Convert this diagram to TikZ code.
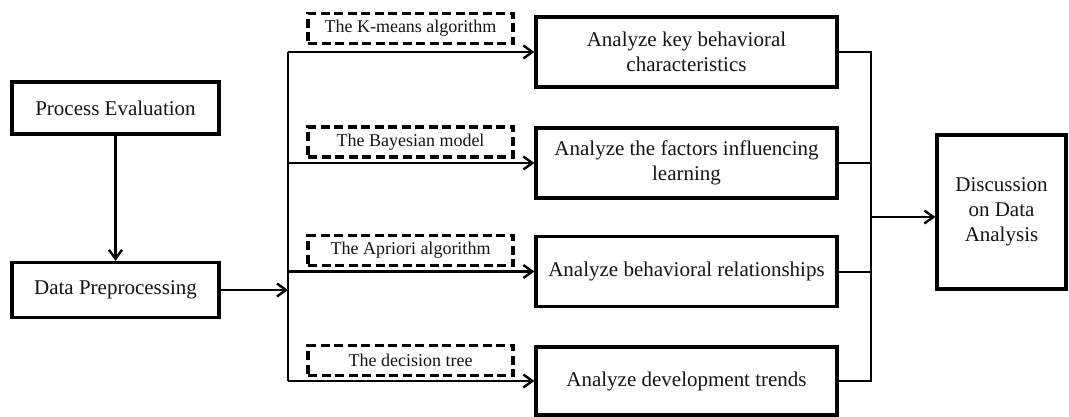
\documentclass[tikz,border=0pt]{standalone}
\usepackage{fontspec}
\setmainfont{Liberation Serif}
\usetikzlibrary{arrows.meta}
\definecolor{ink}{HTML}{141414}
\tikzset{
  mainbox/.style={draw=black, line width=3.2pt, rectangle, inner sep=0pt, align=center, text=ink,
    font=\fontsize{21}{24.5}\selectfont},
  algbox/.style={draw=black, line width=3.2pt, dash pattern=on 9pt off 4.5pt, rectangle, inner sep=0pt,
    minimum width=205pt, minimum height=30pt, text=ink, font=\fontsize{18}{21}\selectfont},
  conn/.style={draw=black, line width=2.4pt},
  arr/.style={conn, -{Straight Barb[length=9pt,width=13pt,line width=2.4pt]}},
}
\begin{document}
\begin{tikzpicture}[x=1pt, y=-1pt]
\useasboundingbox (0,0) rectangle (1069,417);
% left column
\node[mainbox, minimum width=207pt, minimum height=52pt] (pe) at (115.5,108) {Process Evaluation};
\node[mainbox, minimum width=207pt, minimum height=55pt] (dp) at (115.5,290) {Data Preprocessing};
% analysis boxes
\node[mainbox, minimum width=301pt, minimum height=70pt] (a1) at (686.5,52) {Analyze key behavioral\\characteristics};
\node[mainbox, minimum width=301pt, minimum height=70pt] (a2) at (686.5,163) {Analyze the factors influencing\\learning};
\node[mainbox, minimum width=301pt, minimum height=70pt] (a3) at (686.5,271.5) {Analyze behavioral relationships};
\node[mainbox, minimum width=301pt, minimum height=68pt] (a4) at (686.5,381) {Analyze development trends};
% algorithm labels
\node[algbox] (k1) at (410.5,28.5) {The K-means algorithm};
\node[algbox] (k2) at (410.5,142) {The Bayesian model};
\node[algbox] (k3) at (410.5,250.5) {The Apriori algorithm};
\node[algbox] (k4) at (410.5,360.5) {The decision tree};
% discussion
\node[mainbox, minimum width=129pt, minimum height=154pt, font=\fontsize{21}{25}\selectfont] (ds) at (1001.5,212) {Discussion\\on Data\\Analysis};
% trunk coordinates
\coordinate (t1) at (288,52);
\coordinate (t4) at (288,381);
\coordinate (tm) at (288,290);
\coordinate (r1) at (871,52);
\coordinate (r4) at (871,381);
\coordinate (rm) at (871,217);
% connectors
\draw[arr] (pe.south) -- (dp.north);
\draw[arr] (dp.east) -- (tm);
\draw[conn] (t1) -- (t4);
\draw[arr] (t1) -- (a1.west);
\draw[arr] (t1 |- a2.west) -- (a2.west);
\draw[arr] (t1 |- a3.west) -- (a3.west);
\draw[arr] (t4) -- (a4.west);
\draw[conn, line width=2pt] (a1.east) -- (r1) -- (r4) -- (a4.east);
\draw[conn, line width=2pt] (a2.east) -- (r1 |- a2.east);
\draw[conn, line width=2pt] (a3.east) -- (r1 |- a3.east);
\draw[arr] (rm) -- (ds.west |- rm);
\end{tikzpicture}
\end{document}
